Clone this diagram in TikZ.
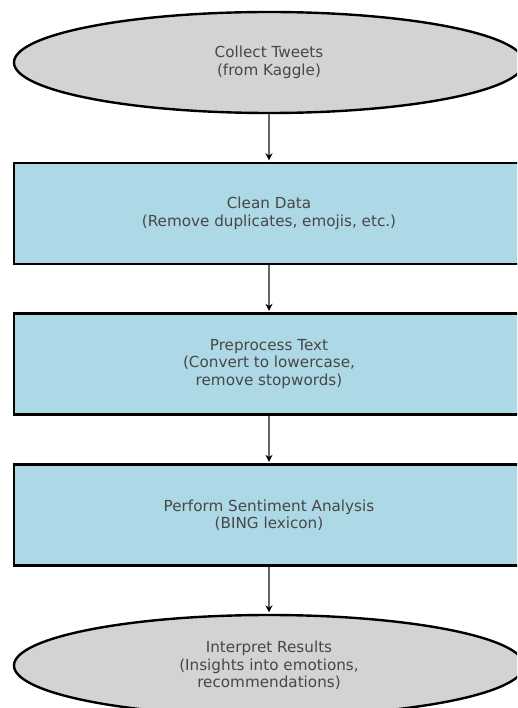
\documentclass[tikz,border=0pt]{standalone}
\usepackage{fontspec}
\setmainfont{DejaVu Sans}
\usetikzlibrary{shapes.geometric,arrows.meta}
\definecolor{boxblue}{HTML}{ADD8E6}
\definecolor{ovalgray}{HTML}{D3D3D3}
\definecolor{txt}{HTML}{474747}
\definecolor{arrowgray}{HTML}{666666}
\tikzset{
  oval/.style={ellipse, draw=black, line width=2.4pt, fill=ovalgray, minimum width=510pt, minimum height=101pt, inner sep=0pt, align=center, text=txt, font=\fontsize{15.2}{17.4}\selectfont},
  stepbox/.style={rectangle, draw=black, line width=2.4pt, fill=boxblue, minimum width=510pt, minimum height=101pt, inner sep=0pt, align=center, text=txt, font=\fontsize{15.2}{17.4}\selectfont},
  flow/.style={draw=arrowgray, line width=2pt, -{Stealth[length=7pt,width=7pt,color=black]}, shorten >=1.5pt}
}
\begin{document}
\begin{tikzpicture}[x=1pt,y=1pt]
\clip (0,0) rectangle (517,-708);
\fill[white] (0,0) rectangle (517,-708);
\node[oval] (collect) at (269,-62.5) {Collect Tweets\\(from Kaggle)};
\node[stepbox] (clean) at (269,-213.5) {Clean Data\\(Remove duplicates, emojis, etc.)};
\node[stepbox] (prep) at (269,-364) {Preprocess Text\\(Convert to lowercase,\\remove stopwords)};
\node[stepbox] (sent) at (269,-515) {Perform Sentiment Analysis\\(BING lexicon)};
\node[oval] (interp) at (269,-665.5) {Interpret Results\\(Insights into emotions,\\recommendations)};
\draw[flow] (collect.south) -- (clean.north);
\draw[flow] (clean.south) -- (prep.north);
\draw[flow] (prep.south) -- (sent.north);
\draw[flow] (sent.south) -- (interp.north);
\end{tikzpicture}
\end{document}
